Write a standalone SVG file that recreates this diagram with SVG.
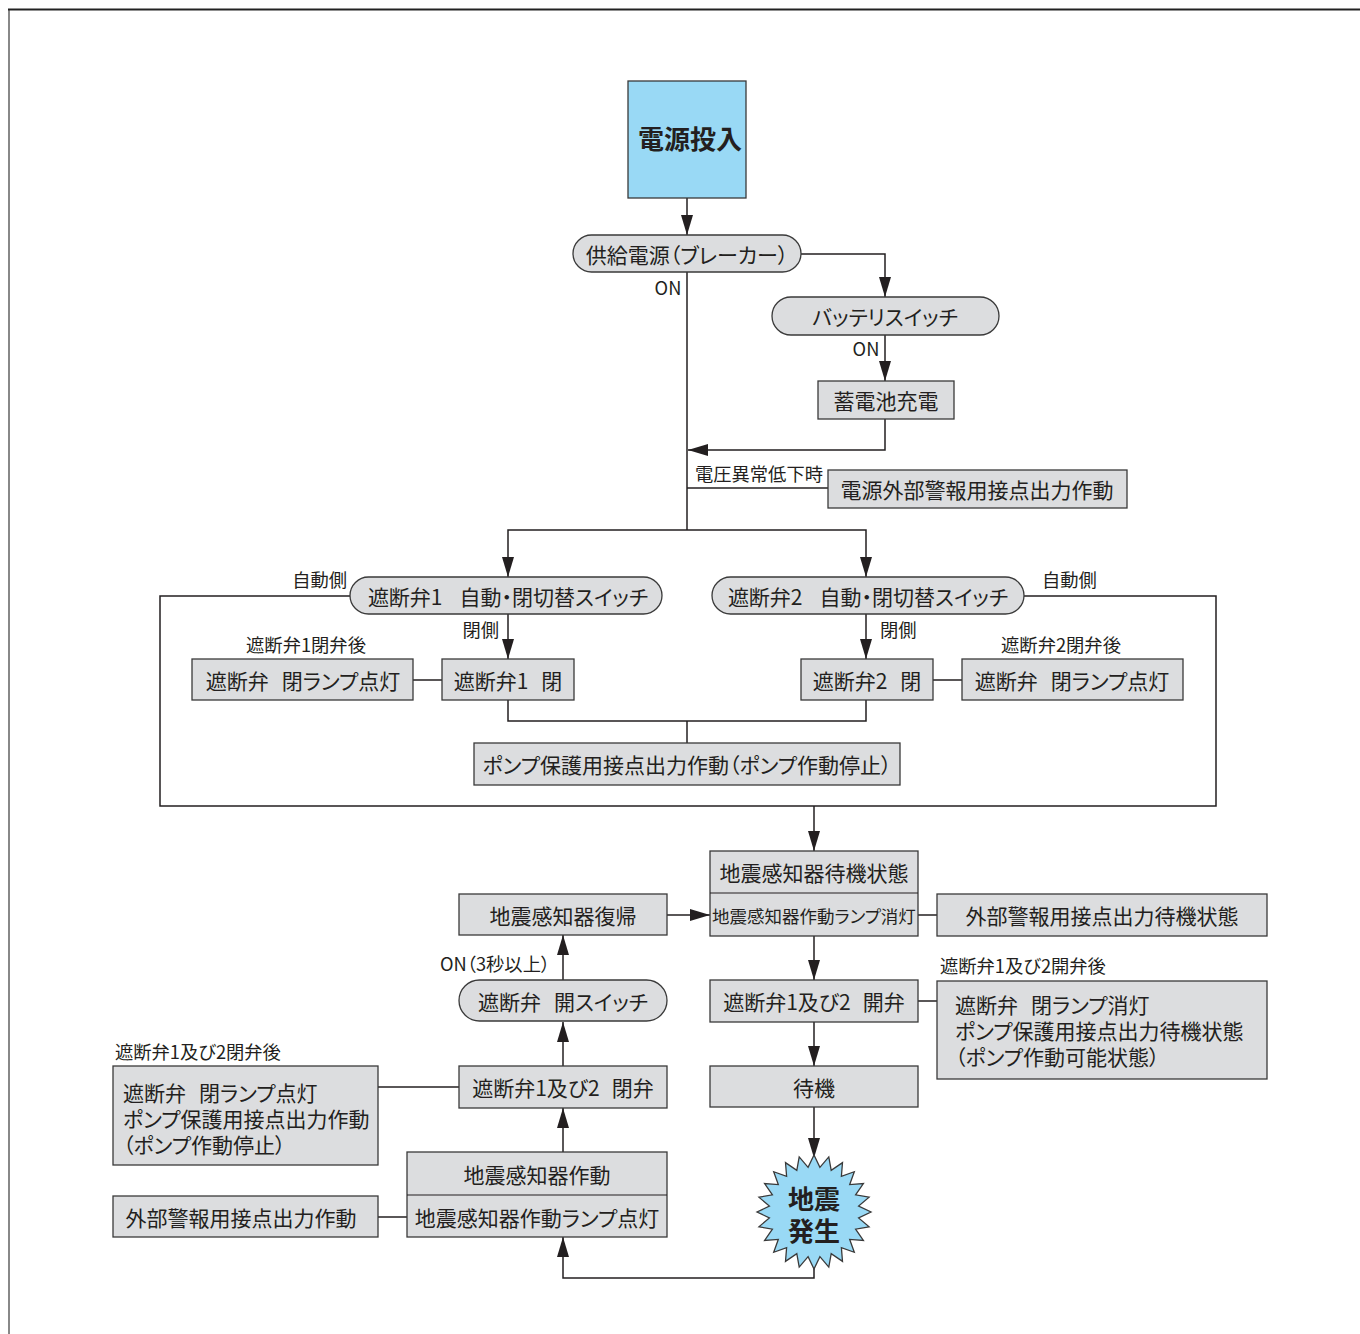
<svg xmlns="http://www.w3.org/2000/svg" width="1360" height="1334" viewBox="0 0 1360 1334">
<style>
text{font-family:"Noto Sans CJK JP","Noto Sans",sans-serif;fill:#231f20;font-feature-settings:"palt";}
.t{font-size:21px;text-anchor:middle;dominant-baseline:central;}
.ts{font-size:17.5px;text-anchor:middle;dominant-baseline:central;}
.tl{font-size:21px;dominant-baseline:central;}
.lb{font-size:18.3px;dominant-baseline:central;}
.lbc{font-size:18.3px;text-anchor:middle;dominant-baseline:central;}
.lbe{font-size:18.3px;text-anchor:end;dominant-baseline:central;}
.big{font-size:26px;font-weight:bold;text-anchor:middle;dominant-baseline:central;}
.box{fill:#dcdddf;stroke:#3a3a3a;stroke-width:1.3;}
.blue{fill:#99d9f5;stroke:#3a3a3a;stroke-width:1.3;}
.ln{fill:none;stroke:#231f20;stroke-width:1.5;}
.ar{fill:none;stroke:#231f20;stroke-width:1.5;marker-end:url(#ah);}
</style>
<defs>
<marker id="ah" markerUnits="userSpaceOnUse" markerWidth="20" markerHeight="12" refX="20" refY="6" orient="auto" viewBox="0 0 20 12">
<path d="M0,0 L20,6 L0,12 Z" fill="#231f20"/>
</marker>
</defs>
<rect width="1360" height="1334" fill="#fff"/>
<path d="M9,1334 V10" stroke="#888" stroke-width="2" fill="none"/>
<path d="M8,9.5 H1360" stroke="#222" stroke-width="2" fill="none"/>

<g id="connectors">
<path class="ar" d="M687,198 V235"/>
<path class="ar" d="M801,254 H885 V297"/>
<path class="ln" d="M687,272 V530"/>
<path class="ar" d="M885,335 V381"/>
<path class="ar" d="M885,419 V450 H688"/>
<path class="ln" d="M687,488 H828"/>
<path class="ar" d="M687,530 H508 V577"/>
<path class="ar" d="M687,530 H866 V577"/>
<path class="ln" d="M350,596 H160 V806 H1216 V596 H1024"/>
<path class="ar" d="M508,614 V659"/>
<path class="ar" d="M866,614 V659"/>
<path class="ln" d="M413,680 H442"/>
<path class="ln" d="M933,680 H962"/>
<path class="ln" d="M508,700 V721 H866 V700"/>
<path class="ln" d="M687,721 V743"/>
<path class="ar" d="M814,806 V851"/>
<path class="ar" d="M667,915 H710"/>
<path class="ln" d="M918,915 H937"/>
<path class="ar" d="M814,936 V980"/>
<path class="ln" d="M918,1001 H937"/>
<path class="ar" d="M814,1022 V1066"/>
<path class="ar" d="M814,1107 V1158"/>
<path class="ar" d="M814,1268 V1278 H563 V1237"/>
<path class="ln" d="M407,1217 H378"/>
<path class="ar" d="M563,1152 V1108"/>
<path class="ln" d="M459,1087 H378"/>
<path class="ar" d="M563,1066 V1022"/>
<path class="ar" d="M563,980 V935"/>
</g>

<g id="labels">
<text class="lbc" x="668" y="287">ON</text>
<text class="lbc" x="866" y="348">ON</text>
<text class="lb" x="695" y="473">電圧異常低下時</text>
<text class="lbe" x="347" y="579">自動側</text>
<text class="lb" x="1042" y="579">自動側</text>
<text class="lbe" x="499" y="629">閉側</text>
<text class="lb" x="880" y="629">閉側</text>
<text class="lbc" x="306" y="644">遮断弁1閉弁後</text>
<text class="lbc" x="1061" y="644">遮断弁2閉弁後</text>
<text class="lb" x="940" y="965">遮断弁1及び2開弁後</text>
<text class="lb" x="440" y="963">ON（3秒以上）</text>
<text class="lb" x="115" y="1051">遮断弁1及び2閉弁後</text>
</g>

<g id="n1"><rect class="blue" x="628" y="81" width="118" height="117"/><text class="big" x="690" y="137">電源投入</text></g>
<g id="n2"><rect class="box" x="573" y="235" width="228" height="37" rx="18.5"/><text class="t" x="687" y="254">供給電源（ブレーカー）</text></g>
<g id="n3"><rect class="box" x="772" y="297" width="227" height="38" rx="19"/><text class="t" x="885" y="316">バッテリスイッチ</text></g>
<g id="n4"><rect class="box" x="818" y="381" width="136" height="38"/><text class="t" x="886" y="400">蓄電池充電</text></g>
<g id="n5"><rect class="box" x="828" y="470" width="299" height="38"/><text class="t" x="977" y="489">電源外部警報用接点出力作動</text></g>
<g id="n6"><rect class="box" x="350" y="577" width="312" height="37" rx="18.5"/><text class="t" x="508" y="596">遮断弁1<tspan dx="17">自動・閉切替スイッチ</tspan></text></g>
<g id="n7"><rect class="box" x="712" y="577" width="312" height="37" rx="18.5"/><text class="t" x="868" y="596">遮断弁2<tspan dx="17">自動・閉切替スイッチ</tspan></text></g>
<g id="n8"><rect class="box" x="192" y="659" width="221" height="41"/><text class="t" x="303" y="680">遮断弁<tspan dx="13">閉ランプ点灯</tspan></text></g>
<g id="n9"><rect class="box" x="442" y="659" width="132" height="41"/><text class="t" x="508" y="680">遮断弁1<tspan dx="13">閉</tspan></text></g>
<g id="n10"><rect class="box" x="801" y="659" width="132" height="41"/><text class="t" x="867" y="680">遮断弁2<tspan dx="13">閉</tspan></text></g>
<g id="n11"><rect class="box" x="962" y="659" width="221" height="41"/><text class="t" x="1072" y="680">遮断弁<tspan dx="13">閉ランプ点灯</tspan></text></g>
<g id="n12"><rect class="box" x="474" y="743" width="426" height="42"/><text class="t" x="687" y="764">ポンプ保護用接点出力作動（ポンプ作動停止）</text></g>
<g id="n13"><rect class="box" x="710" y="851" width="208" height="85"/><path class="ln" d="M710,893 H918" style="stroke-width:1.2"/><text class="t" x="814" y="872">地震感知器待機状態</text><text class="ts" x="814" y="915">地震感知器作動ランプ消灯</text></g>
<g id="n14"><rect class="box" x="937" y="894" width="330" height="42"/><text class="t" x="1102" y="915">外部警報用接点出力待機状態</text></g>
<g id="n15"><rect class="box" x="459" y="894" width="208" height="41"/><text class="t" x="563" y="915">地震感知器復帰</text></g>
<g id="n16"><rect class="box" x="710" y="980" width="208" height="42"/><text class="t" x="814" y="1001">遮断弁1及び2<tspan dx="12">開弁</tspan></text></g>
<g id="n17"><rect class="box" x="937" y="981" width="330" height="98"/><text class="tl" x="955" y="1004">遮断弁<tspan dx="13">閉ランプ消灯</tspan></text><text class="tl" x="955" y="1030">ポンプ保護用接点出力待機状態</text><text class="tl" x="955" y="1056">（ポンプ作動可能状態）</text></g>
<g id="n18"><rect class="box" x="710" y="1066" width="208" height="41"/><text class="t" x="814" y="1087">待機</text></g>
<g id="n19"><polygon class="blue" points="814,1155 819.9,1167.4 828.8,1156.9 831.2,1170.4 842.5,1162.6 841.4,1176.3 854.3,1171.7 849.7,1184.6 863.4,1183.5 855.6,1194.8 869.1,1197.2 858.6,1206.1 871,1212 858.6,1217.9 869.1,1226.8 855.6,1229.2 863.4,1240.5 849.7,1239.4 854.3,1252.3 841.4,1247.7 842.5,1261.4 831.2,1253.6 828.8,1267.1 819.9,1256.6 814,1269 808.1,1256.6 799.2,1267.1 796.8,1253.6 785.5,1261.4 786.6,1247.7 773.7,1252.3 778.3,1239.4 764.6,1240.5 772.4,1229.2 758.9,1226.8 769.4,1217.9 757,1212 769.4,1206.1 758.9,1197.2 772.4,1194.8 764.6,1183.5 778.3,1184.6 773.7,1171.7 786.6,1176.3 785.5,1162.6 796.8,1170.4 799.2,1156.9 808.1,1167.4"/><text class="big" x="814" y="1197">地震</text><text class="big" x="814" y="1229">発生</text></g>
<g id="n20"><rect class="box" x="407" y="1152" width="260" height="85"/><path class="ln" d="M407,1195 H667" style="stroke-width:1.2"/><text class="t" x="537" y="1174">地震感知器作動</text><text class="t" x="537" y="1217">地震感知器作動ランプ点灯</text></g>
<g id="n21"><rect class="box" x="113" y="1196" width="265" height="41"/><text class="t" x="241" y="1217">外部警報用接点出力作動</text></g>
<g id="n22"><rect class="box" x="459" y="1066" width="208" height="42"/><text class="t" x="563" y="1087">遮断弁1及び2<tspan dx="12">閉弁</tspan></text></g>
<g id="n23"><rect class="box" x="113" y="1066" width="265" height="99"/><text class="tl" x="123" y="1092">遮断弁<tspan dx="13">閉ランプ点灯</tspan></text><text class="tl" x="123" y="1118">ポンプ保護用接点出力作動</text><text class="tl" x="123" y="1144">（ポンプ作動停止）</text></g>
<g id="n24"><rect class="box" x="459" y="980" width="208" height="41" rx="20.5"/><text class="t" x="563" y="1001">遮断弁<tspan dx="13">開スイッチ</tspan></text></g>
</svg>
